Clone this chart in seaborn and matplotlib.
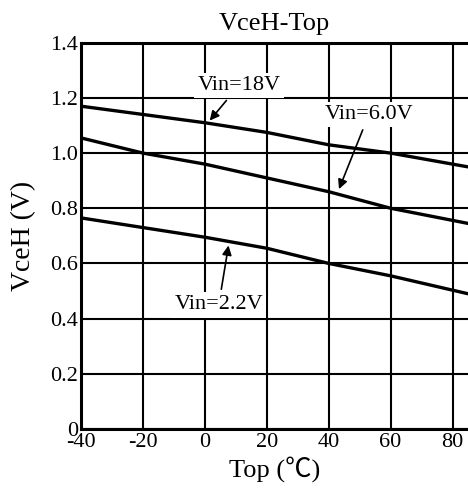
import pandas as pd
import seaborn as sns
import matplotlib.pyplot as plt

temps = [-40, -20, 0, 20, 40, 60, 85]
v18 = [1.17, 1.14, 1.11, 1.075, 1.03, 1.0, 0.95]
v60 = [1.055, 1.0, 0.96, 0.91, 0.86, 0.80, 0.745]
v22 = [0.765, 0.73, 0.695, 0.655, 0.60, 0.555, 0.49]
series = ['Vin=18V', 'Vin=6.0V', 'Vin=2.2V']

df = pd.DataFrame({'Top': temps * 3,
                   'VceH': v18 + v60 + v22,
                   'Vin': [s for s in series for _ in temps]})

sns.set_theme(style='white')
plt.rcParams['font.family'] = ['Liberation Serif', 'Noto Sans CJK SC', 'DejaVu Sans']
plt.rcParams['text.color'] = 'black'
plt.rcParams['axes.labelcolor'] = 'black'

fig = plt.figure(figsize=(4.68, 4.97), dpi=100)
ax = fig.add_axes([0.173, 0.137, 0.827, 0.777])
sns.lineplot(data=df, x='Top', y='VceH', units='Vin', estimator=None,
             color='black', lw=2.4, ax=ax, legend=False)

ax.set_xlim(-40, 85)
ax.set_ylim(0, 1.4)
ax.set_xticks([-40, -20, 0, 20, 40, 60, 80])
ax.set_yticks([0, 0.2, 0.4, 0.6, 0.8, 1.0, 1.2, 1.4])
ax.set_xticklabels(['-40', '-20', '0', '20', '40', '60', '80'])
ax.set_yticklabels(['0', '0.2', '0.4', '0.6', '0.8', '1.0', '1.2', '1.4'])
ax.grid(True, color='black', lw=1.5)
ax.tick_params(length=0, labelsize=16, colors='black', pad=2)
ax.tick_params(axis='x', pad=3)
for side in ['left', 'bottom', 'top']:
    ax.spines[side].set_color('black')
    ax.spines[side].set_linewidth(2.2)
ax.spines['right'].set_visible(False)

ax.set_title('VceH-Top', fontsize=19, pad=9)
ax.set_xlabel('Top (℃)', fontsize=19, labelpad=3)
ax.set_ylabel('VceH (V)', fontsize=20, labelpad=10)

box = dict(boxstyle='square,pad=0.15', fc='white', ec='none')
arrow = dict(arrowstyle='-|>', color='black', lw=1.2, mutation_scale=14)
ax.annotate('Vin=18V', xy=(1, 1.11), xytext=(11, 1.245), ha='center', va='center',
            fontsize=16, bbox=box, arrowprops=arrow)
ax.annotate('Vin=6.0V', xy=(43, 0.86), xytext=(53, 1.14), ha='center', va='center',
            fontsize=16, bbox=box, arrowprops=arrow)
ax.annotate('Vin=2.2V', xy=(7.8, 0.675), xytext=(4.5, 0.45), ha='center', va='center',
            fontsize=16, bbox=box, arrowprops=arrow)

fig.savefig('out.png', dpi=100)
